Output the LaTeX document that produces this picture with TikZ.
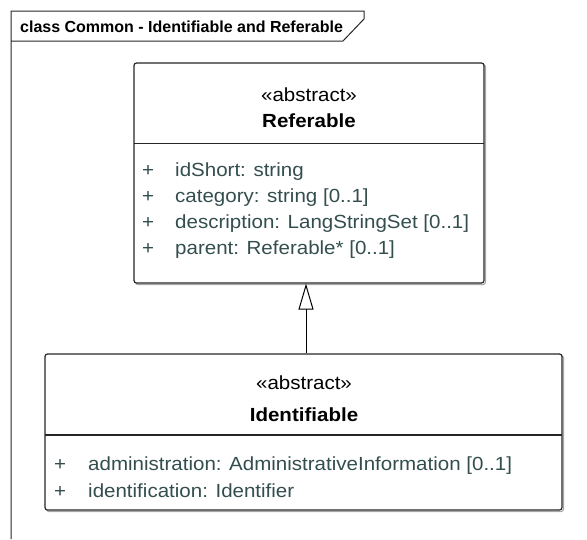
\documentclass[tikz,border=0pt]{standalone}
\usepackage{fontspec}
\setmainfont{Liberation Sans}
\newfontfamily\boxfont{Liberation Sans}[FakeStretch=1.08]
\usetikzlibrary{arrows.meta}
\definecolor{attrcol}{RGB}{52,78,78}
\tikzset{
  framel/.style={line width=1pt, draw=black!85},
  classbox/.style={draw=black!85, line width=1.2pt, rounded corners=2.5pt, fill=white, inner sep=0pt},
  shadowbox/.style={draw=black!35, line width=1.2pt, rounded corners=2.5pt},
  divider/.style={draw=black!85, line width=1.1pt},
  stereo/.style={font=\boxfont\fontsize{19}{19}\selectfont, anchor=base, inner sep=0pt},
  cname/.style={font=\boxfont\bfseries\fontsize{19}{19}\selectfont, anchor=base, inner sep=0pt},
  attr/.style={font=\boxfont\fontsize{19}{19}\selectfont, text=attrcol, anchor=base west, inner sep=0pt},
  vis/.style={font=\boxfont\fontsize{19}{19}\selectfont, text=attrcol, anchor=base, inner sep=0pt},
  genarrow/.style={draw=black, line width=1pt, -{Triangle[open, length=26pt, width=15pt, line width=1pt]}}
}
\begin{document}
\begin{tikzpicture}[x=1pt,y=-1pt]
\useasboundingbox (0,0) rectangle (587,539);
% frame
\coordinate (f1) at (11,539);
\coordinate (f2) at (11,11);
\coordinate (f3) at (364,11);
\coordinate (f4) at (364,19);
\coordinate (f5) at (343,41);
\coordinate (f6) at (11,41);
\draw[framel] (f1) -- (f2) -- (f3) -- (f4) -- (f5) -- (f6);
\node[font=\bfseries\fontsize{16}{16}\selectfont, anchor=base west, inner sep=0pt] (title) at (20,32) {class Common - Identifiable and Referable};

% Referable
\draw[shadowbox] (135.5,64.5) rectangle (485.5,284.5);
\node[classbox, minimum width=350pt, minimum height=220pt] (ref) at (309,173) {};
\draw[divider] (134,143.5) -- (484,143.5);
\node[stereo] (refst) at (309,101.5) {«abstract»};
\node[cname] (refname) at (309,127.5) {Referable};
\node[vis] (rp1) at (148,176.5) {+};
\node[attr] (ra1) at (175,176.5) {idShort: string};
\node[vis] (rp2) at (148,202.5) {+};
\node[attr] (ra2) at (175,202.5) {category: string [0..1]};
\node[vis] (rp3) at (148,228.5) {+};
\node[attr] (ra3) at (175,228.5) {description: LangStringSet [0..1]};
\node[vis] (rp4) at (148,254.5) {+};
\node[attr] (ra4) at (175,254.5) {parent: Referable* [0..1]};

% Identifiable
\draw[shadowbox] (46.5,355.5) rectangle (563.5,511.5);
\node[classbox, minimum width=517pt, minimum height=156pt] (idf) at (303.5,432) {};
\draw[divider] (45,435) -- (562,435);
\node[stereo] (idst) at (304,389) {«abstract»};
\node[cname] (idname) at (304,421.5) {Identifiable};
\node[vis] (ip1) at (60,470) {+};
\node[attr] (ia1) at (88,470) {administration: AdministrativeInformation [0..1]};
\node[vis] (ip2) at (60,497.5) {+};
\node[attr] (ia2) at (88,497.5) {identification: Identifier};

% generalization
\draw[genarrow] (idf.north -| 306,0) -- (ref.south -| 306,0);
\end{tikzpicture}
\end{document}
